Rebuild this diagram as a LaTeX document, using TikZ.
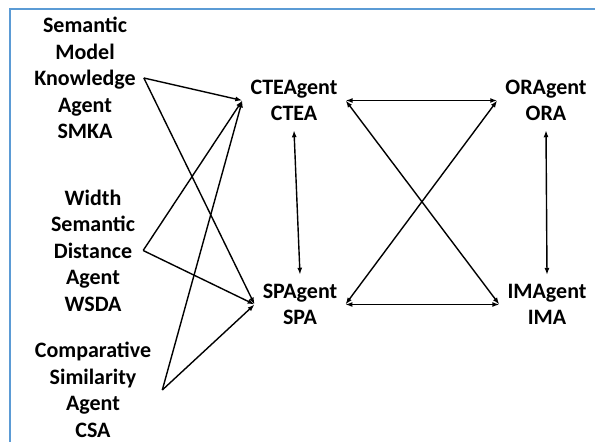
\documentclass[tikz,border=0pt]{standalone}
\usepackage{fontspec}
\setmainfont{Carlito}
\usetikzlibrary{arrows.meta,positioning}
\definecolor{frameblue}{RGB}{91,155,213}
\tikzset{
  agent/.style={align=center, font=\bfseries\fontsize{22}{26.5}\selectfont, inner xsep=8pt, inner ysep=5pt},
  hub/.style={agent, inner ysep=9pt},
  link/.style={line width=1.4pt, -{Latex[length=7pt,width=5pt]}},
  twoway/.style={line width=1.4pt, {Latex[length=7pt,width=5pt]}-{Latex[length=7pt,width=5pt]}}
}

\begin{document}
\begin{tikzpicture}[x=1pt,y=-1pt]
  \useasboundingbox (0,0) rectangle (595,442);
  \draw[frameblue, line width=2pt] (10,442) -- (10,9) -- (595,9);

  % source agents
  \node[agent] (smka) at (85,78) {Semantic\\Model\\Knowledge\\Agent\\SMKA};
  \node[agent] (wsda) at (93,250.5) {Width\\Semantic\\Distance\\Agent\\WSDA};
  \node[agent, inner ysep=1pt] (csa) at (93,390) {Comparative\\Similarity\\Agent\\CSA};

  % processing agents
  \node[hub] (ctea) at (294,100.5) {CTEAgent\\CTEA};
  \node[hub] (spa) at (300,304.5) {SPAgent\\SPA};
  \node[hub] (ora) at (546,100.5) {ORAgent\\ORA};
  \node[hub] (ima) at (547,304.5) {IMAgent\\IMA};

  \draw[link] (smka.east) -- (ctea.west);
  \draw[link] (smka.east) -- (spa.west);
  \draw[link] (wsda.east) -- (ctea.west);
  \draw[link] (wsda.east) -- (spa.west);
  \draw[link] ([xshift=3pt]csa.east) -- (ctea.west);
  \draw[link] ([xshift=3pt]csa.east) -- (spa.west);

  \draw[twoway] (ctea.south) -- (spa.north);
  \draw[twoway] (ora.south) -- (ima.north);
  \draw[twoway] (ctea.east) -- (ora.west);
  \draw[twoway] (spa.east) -- (ima.west);
  \draw[twoway] (ctea.east) -- (ima.west);
  \draw[twoway] (spa.east) -- (ora.west);
\end{tikzpicture}
\end{document}
